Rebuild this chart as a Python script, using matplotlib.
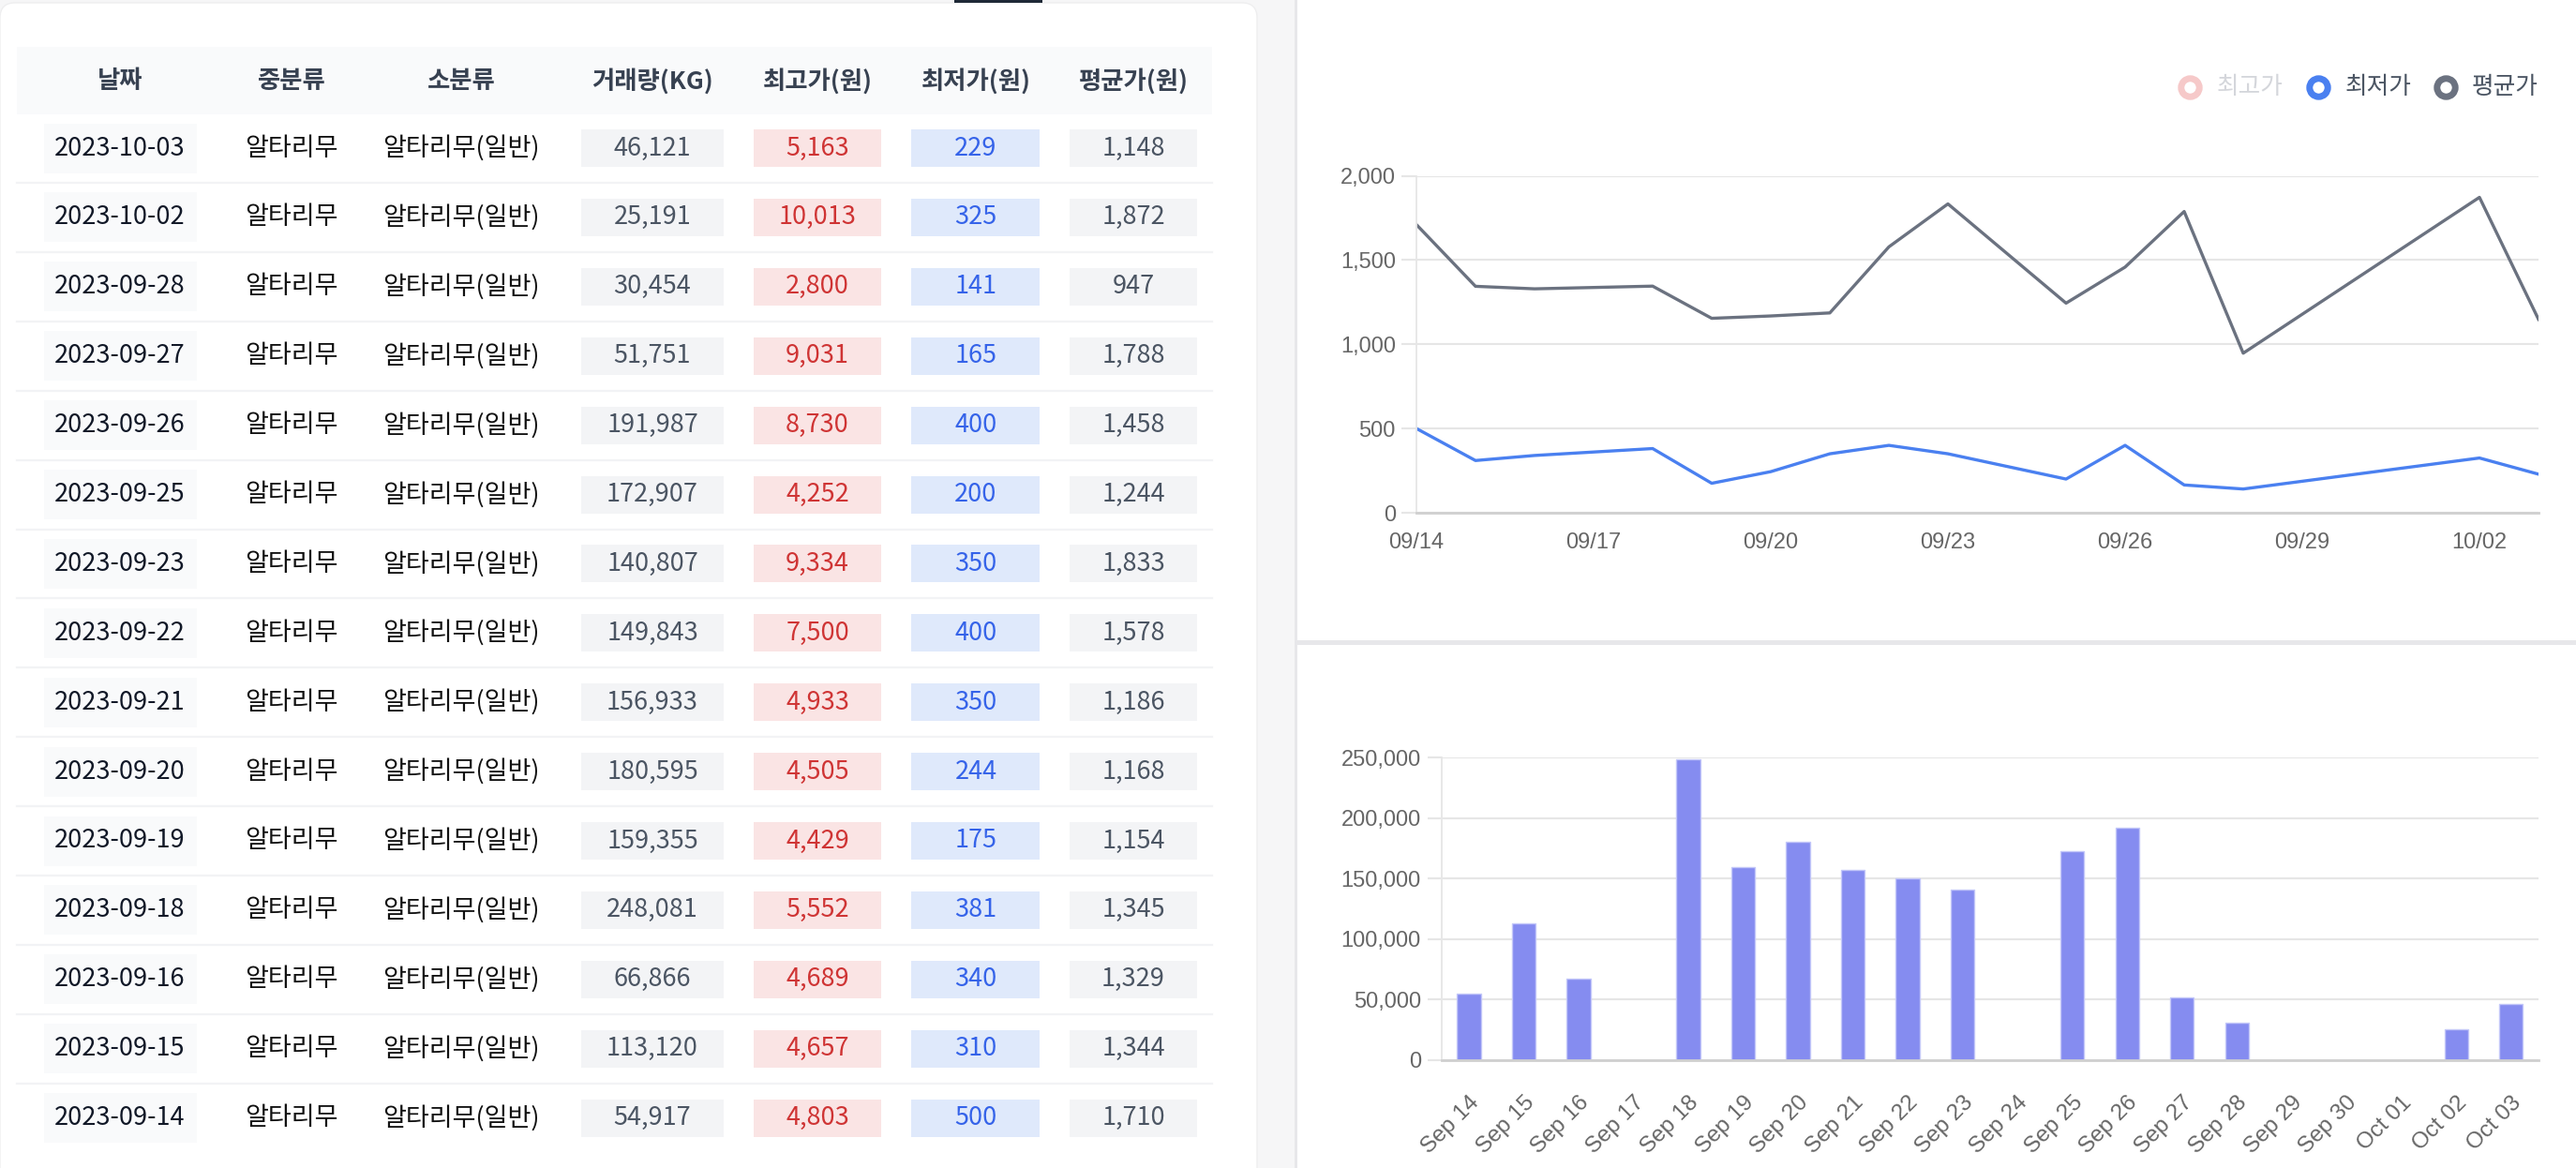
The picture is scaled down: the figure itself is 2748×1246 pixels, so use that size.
import numpy as np
import pandas as pd
import matplotlib
matplotlib.use("Agg")
import matplotlib.pyplot as plt
import matplotlib.dates as mdates
from matplotlib.patches import Rectangle, FancyBboxPatch
from matplotlib.ticker import FuncFormatter

# 테이블 데이터 (최신 날짜가 위)
headers = ["날짜", "중분류", "소분류", "거래량(KG)", "최고가(원)", "최저가(원)", "평균가(원)"]
dates = ["2023-10-03", "2023-10-02", "2023-09-28", "2023-09-27", "2023-09-26",
         "2023-09-25", "2023-09-23", "2023-09-22", "2023-09-21", "2023-09-20",
         "2023-09-19", "2023-09-18", "2023-09-16", "2023-09-15", "2023-09-14"]
mid_cat = "알타리무"
sub_cat = "알타리무(일반)"
volume = [46121, 25191, 30454, 51751, 191987, 172907, 140807, 149843, 156933,
          180595, 159355, 248081, 66866, 113120, 54917]
high = [5163, 10013, 2800, 9031, 8730, 4252, 9334, 7500, 4933, 4505, 4429,
        5552, 4689, 4657, 4803]
low = [229, 325, 141, 165, 400, 200, 350, 400, 350, 244, 175, 381, 340, 310, 500]
avg = [1148, 1872, 947, 1788, 1458, 1244, 1833, 1578, 1186, 1168, 1154, 1345,
       1329, 1344, 1710]

legend_labels = ["최고가", "최저가", "평균가"]
line_ticks = ["2023-09-14", "2023-09-17", "2023-09-20", "2023-09-23",
              "2023-09-26", "2023-09-29", "2023-10-02"]
bar_start, bar_end = "2023-09-14", "2023-10-03"

W, H = 2748, 1246
KR = "Noto Sans CJK KR"
LAT = "Liberation Sans"

fig = plt.figure(figsize=(W / 100, H / 100), dpi=100, facecolor="#f6f6f7")

# 배경 / 카드
bg = fig.add_axes([0, 0, 1, 1], zorder=0)
bg.set_xlim(0, W)
bg.set_ylim(H, 0)
bg.axis("off")
bg.add_patch(FancyBboxPatch((0, 3), 1341, H + 40, boxstyle="round,pad=0,rounding_size=16",
                            fc="white", ec="#eeeeef", lw=1))
bg.add_patch(Rectangle((1018, 0), 94, 3, fc="#1f2937", ec="none"))
bg.add_patch(Rectangle((1381, 0), 3, H, fc="#e7e7ea", ec="none"))
bg.add_patch(Rectangle((1384, 0), W - 1384, 683, fc="white", ec="none"))
bg.add_patch(Rectangle((1381, 683), W - 1381, 5, fc="#e7e7ea", ec="none"))
bg.add_patch(Rectangle((1384, 688), W - 1384, H - 688, fc="white", ec="none"))

# 테이블
col_x = [128, 311, 492, 696, 872, 1041, 1209]
bg.add_patch(Rectangle((18, 50), 1275, 72, fc="#f9fafb", ec="none"))
for x, h in zip(col_x, headers):
    bg.text(x, 87, h, ha="center", va="center", fontsize=19, family=KR,
            fontweight="bold", color="#374151")

row_y0, row_h = 158, 73.9
boxes = [(47, 210, 26.5, "#f9fafb"), (620, 772, 20, "#f3f4f6"),
         (804, 940, 20, "#fae4e4"), (972, 1109, 20, "#dfe9fb"),
         (1141, 1277, 20, "#f3f4f6")]
for i in range(len(dates)):
    y = row_y0 + i * row_h
    if i < len(dates) - 1:
        bg.plot([18, 1293], [y + 37, y + 37], color="#f2f3f5", lw=1.6)
    for x0, x1, hh, c in boxes:
        bg.add_patch(Rectangle((x0, y - hh), x1 - x0, 2 * hh, fc=c, ec="none"))
    cells = [(dates[i], "#111827"), (mid_cat, "#111111"), (sub_cat, "#111111"),
             (f"{volume[i]:,}", "#4b5563"), (f"{high[i]:,}", "#cf3434"),
             (f"{low[i]:,}", "#3563e9"), (f"{avg[i]:,}", "#4b5563")]
    for x, (t, c) in zip(col_x, cells):
        bg.text(x, y, t, ha="center", va="center", fontsize=19.5, family=KR,
                fontweight="medium", color=c)

# 범례 (최고가는 숨김 상태)
leg_colors = ["#f6c9c9", "#4a80f0", "#6b7280"]
leg_text_colors = ["#d4d6db", "#4b5563", "#4b5563"]
for lab, cx, tx, c, tc in zip(legend_labels, [2336, 2473, 2609], [2365, 2502, 2637],
                              leg_colors, leg_text_colors):
    bg.plot(cx, 93, "o", ms=14, mfc="white", mec=c, mew=5)
    bg.text(tx, 93, lab, ha="left", va="center", fontsize=18.5, family=KR,
            fontweight="medium", color=tc)


def style_axis(ax, tick_len):
    for s in ["top", "right"]:
        ax.spines[s].set_visible(False)
    ax.spines["left"].set_color("#e6e6e6")
    ax.spines["left"].set_linewidth(1.3)
    ax.spines["bottom"].set_color("#cfcfcf")
    ax.spines["bottom"].set_linewidth(2)
    ax.grid(axis="y", color="#e6e6e6", lw=1.5)
    ax.set_axisbelow(True)
    ax.tick_params(axis="y", length=tick_len, width=1.5, color="#e6e6e6", pad=4.5,
                   labelsize=17, labelcolor="#666666")
    ax.tick_params(axis="x", length=0, labelsize=17, labelcolor="#666666")
    ax.yaxis.set_major_formatter(FuncFormatter(lambda v, p: f"{int(v):,}"))


# 꺾은선 차트
d = pd.to_datetime(dates)[::-1]
ax1 = fig.add_axes([1511 / W, 1 - 547 / H, (2708 - 1511) / W, (547 - 187.5) / H])
ax1.plot(d, low[::-1], color="#4a80f0", lw=2.4)
ax1.plot(d, avg[::-1], color="#6b7280", lw=2.4)
ax1.set_ylim(0, 2000)
ax1.set_yticks(range(0, 2001, 500))
ax1.set_xlim(pd.Timestamp(bar_start), pd.Timestamp(bar_end))
ax1.set_xticks(pd.to_datetime(line_ticks))
ax1.xaxis.set_major_formatter(mdates.DateFormatter("%m/%d"))
style_axis(ax1, 11.5)
ax1.tick_params(axis="x", pad=15)
for lb in ax1.get_xticklabels() + ax1.get_yticklabels():
    lb.set_family(LAT)

# 막대 차트
days = pd.date_range(bar_start, bar_end, freq="D")
vol_by_day = dict(zip(pd.to_datetime(dates), volume))
bar_vals = [vol_by_day.get(day, np.nan) for day in days]
ax2 = fig.add_axes([1537.7 / W, 1 - 1130.7 / H, (2708 - 1537.7) / W, (1130.7 - 808) / H])
ax2.bar(np.arange(len(days)), bar_vals, width=0.43, color="#858cf0",
        edgecolor="#c3c7f9", lw=1)
ax2.set_xlim(-0.5, len(days) - 0.5)
ax2.set_ylim(0, 250000)
ax2.set_yticks(range(0, 250001, 50000))
ax2.set_xticks(np.arange(len(days)))
ax2.set_xticklabels([day.strftime("%b %d") for day in days], rotation=45,
                    ha="right", va="top", rotation_mode="anchor")
style_axis(ax2, 10.8)
ax2.tick_params(axis="x", pad=25, labelsize=17.5)
ax2.tick_params(axis="y", pad=5)
for lb in ax2.get_xticklabels() + ax2.get_yticklabels():
    lb.set_family(LAT)

fig.savefig("out.png", dpi=100, facecolor=fig.get_facecolor())
